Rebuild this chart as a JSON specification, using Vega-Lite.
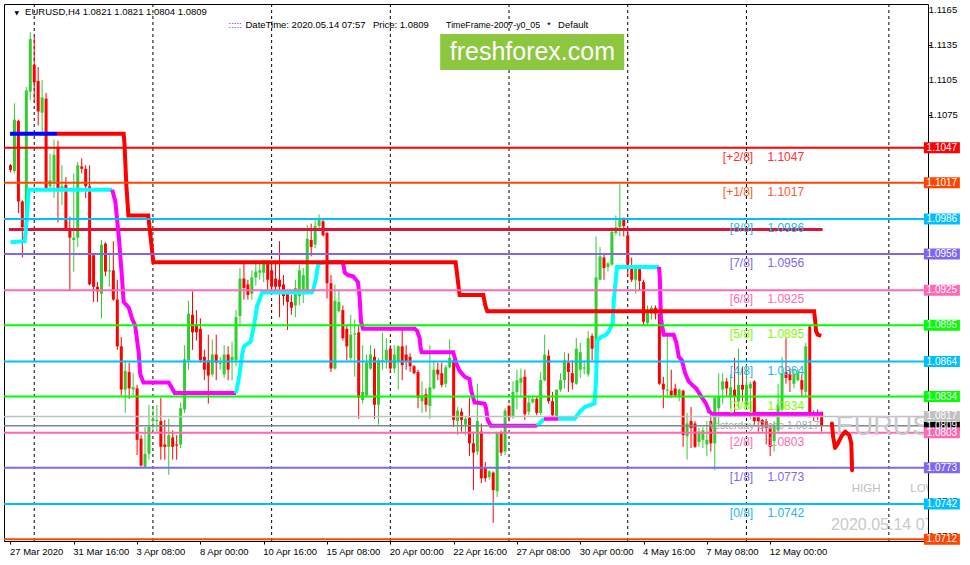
{
  "$schema": "https://vega.github.io/schema/vega-lite/v6.json",
  "width": 924,
  "height": 537,
  "autosize": {"type": "none"},
  "padding": {"left": 4, "top": 4, "right": 42, "bottom": 24},
  "background": "#FFFFFF",
  "config": {
    "view": {"stroke": "#000000", "strokeWidth": 1},
    "font": "Liberation Sans",
    "axis": {"labelFont": "Liberation Sans", "grid": false, "title": null}
  },
  "resolve": {"scale": {"color": "independent"}},
  "datasets": {
    "candles": [
      {"i":0,"o":1.1032,"h":1.1033,"l":1.1026,"c":1.1028},
      {"i":1,"o":1.1027,"h":1.1085,"l":1.1025,"c":1.1071},
      {"i":2,"o":1.1070,"h":1.1071,"l":1.0991,"c":1.1001},
      {"i":3,"o":1.1001,"h":1.1002,"l":1.0953,"c":1.0979},
      {"i":4,"o":1.0979,"h":1.1099,"l":1.0978,"c":1.1096},
      {"i":5,"o":1.1095,"h":1.1146,"l":1.1088,"c":1.1140},
      {"i":6,"o":1.1118,"h":1.1142,"l":1.1086,"c":1.1103},
      {"i":7,"o":1.1104,"h":1.1116,"l":1.1066,"c":1.1078},
      {"i":8,"o":1.1077,"h":1.1105,"l":1.1059,"c":1.1090},
      {"i":9,"o":1.1089,"h":1.1094,"l":1.1011,"c":1.1012},
      {"i":10,"o":1.1014,"h":1.1042,"l":1.1011,"c":1.1019},
      {"i":11,"o":1.1018,"h":1.1054,"l":1.1004,"c":1.1041},
      {"i":12,"o":1.1047,"h":1.1053,"l":1.0983,"c":1.1011},
      {"i":13,"o":1.1012,"h":1.1032,"l":1.0998,"c":1.1014},
      {"i":14,"o":1.1015,"h":1.1022,"l":1.0977,"c":1.0978},
      {"i":15,"o":1.0978,"h":1.0988,"l":1.0925,"c":1.0970},
      {"i":16,"o":1.0968,"h":1.1025,"l":1.0941,"c":1.0970},
      {"i":17,"o":1.0970,"h":1.1035,"l":1.0962,"c":1.1032},
      {"i":18,"o":1.1031,"h":1.1038,"l":1.1025,"c":1.1029},
      {"i":19,"o":1.1029,"h":1.1032,"l":1.1004,"c":1.1014},
      {"i":20,"o":1.1014,"h":1.1032,"l":1.0929,"c":1.0930},
      {"i":21,"o":1.0955,"h":1.0956,"l":1.0915,"c":1.0928},
      {"i":22,"o":1.0928,"h":1.0932,"l":1.0915,"c":1.0924},
      {"i":23,"o":1.0922,"h":1.0968,"l":1.0901,"c":1.0964},
      {"i":24,"o":1.0965,"h":1.0966,"l":1.0937,"c":1.0941},
      {"i":25,"o":1.0941,"h":1.0957,"l":1.0928,"c":1.0942},
      {"i":26,"o":1.0942,"h":1.0967,"l":1.0916,"c":1.0917},
      {"i":27,"o":1.0917,"h":1.0934,"l":1.0874,"c":1.0877},
      {"i":28,"o":1.0877,"h":1.0885,"l":1.0835,"c":1.0840},
      {"i":29,"o":1.0840,"h":1.0865,"l":1.0820,"c":1.0856},
      {"i":30,"o":1.0855,"h":1.0863,"l":1.0832,"c":1.0841},
      {"i":31,"o":1.0840,"h":1.0854,"l":1.0835,"c":1.0842},
      {"i":32,"o":1.0841,"h":1.0844,"l":1.0784,"c":1.0797},
      {"i":33,"o":1.0798,"h":1.0801,"l":1.0774,"c":1.0775},
      {"i":34,"o":1.0774,"h":1.0808,"l":1.0773,"c":1.0785},
      {"i":35,"o":1.0785,"h":1.0827,"l":1.0780,"c":1.0808},
      {"i":36,"o":1.0813,"h":1.0823,"l":1.0805,"c":1.0815},
      {"i":37,"o":1.0813,"h":1.0827,"l":1.0803,"c":1.0814},
      {"i":38,"o":1.0813,"h":1.0833,"l":1.0780,"c":1.0791},
      {"i":39,"o":1.0793,"h":1.0814,"l":1.0780,"c":1.0791},
      {"i":40,"o":1.0791,"h":1.0815,"l":1.0767,"c":1.0801},
      {"i":41,"o":1.0799,"h":1.0805,"l":1.0780,"c":1.0791},
      {"i":42,"o":1.0793,"h":1.0801,"l":1.0780,"c":1.0792},
      {"i":43,"o":1.0793,"h":1.0829,"l":1.0790,"c":1.0824},
      {"i":44,"o":1.0823,"h":1.0878,"l":1.0820,"c":1.0866},
      {"i":45,"o":1.0865,"h":1.0916,"l":1.0857,"c":1.0905},
      {"i":46,"o":1.0904,"h":1.0924,"l":1.0874,"c":1.0889},
      {"i":47,"o":1.0896,"h":1.0908,"l":1.0882,"c":1.0889},
      {"i":48,"o":1.0892,"h":1.0901,"l":1.0863,"c":1.0865},
      {"i":49,"o":1.0868,"h":1.0874,"l":1.0848,"c":1.0857},
      {"i":50,"o":1.0865,"h":1.0887,"l":1.0828,"c":1.0852},
      {"i":51,"o":1.0853,"h":1.0883,"l":1.0851,"c":1.0870},
      {"i":52,"o":1.0870,"h":1.0887,"l":1.0848,"c":1.0863},
      {"i":53,"o":1.0862,"h":1.0868,"l":1.0857,"c":1.0863},
      {"i":54,"o":1.0853,"h":1.0878,"l":1.0850,"c":1.0870},
      {"i":55,"o":1.0870,"h":1.0877,"l":1.0848,"c":1.0857},
      {"i":56,"o":1.0865,"h":1.0881,"l":1.0848,"c":1.0868},
      {"i":57,"o":1.0865,"h":1.0908,"l":1.0860,"c":1.0902},
      {"i":58,"o":1.0903,"h":1.0944,"l":1.0894,"c":1.0935},
      {"i":59,"o":1.0935,"h":1.0949,"l":1.0917,"c":1.0927},
      {"i":60,"o":1.0930,"h":1.0934,"l":1.0917,"c":1.0921},
      {"i":61,"o":1.0922,"h":1.0942,"l":1.0917,"c":1.0936},
      {"i":62,"o":1.0936,"h":1.0949,"l":1.0929,"c":1.0941},
      {"i":63,"o":1.0940,"h":1.0948,"l":1.0934,"c":1.0942},
      {"i":64,"o":1.0940,"h":1.0951,"l":1.0932,"c":1.0948},
      {"i":65,"o":1.0948,"h":1.0949,"l":1.0925,"c":1.0934},
      {"i":66,"o":1.0942,"h":1.0949,"l":1.0925,"c":1.0928},
      {"i":67,"o":1.0935,"h":1.0948,"l":1.0925,"c":1.0928},
      {"i":68,"o":1.0934,"h":1.0967,"l":1.0902,"c":1.0928},
      {"i":69,"o":1.0930,"h":1.0938,"l":1.0912,"c":1.0920},
      {"i":70,"o":1.0922,"h":1.0925,"l":1.0891,"c":1.0915},
      {"i":71,"o":1.0915,"h":1.0921,"l":1.0904,"c":1.0910},
      {"i":72,"o":1.0912,"h":1.0934,"l":1.0902,"c":1.0927},
      {"i":73,"o":1.0920,"h":1.0947,"l":1.0912,"c":1.0942},
      {"i":74,"o":1.0924,"h":1.0944,"l":1.0914,"c":1.0938},
      {"i":75,"o":1.0924,"h":1.0981,"l":1.0922,"c":1.0969},
      {"i":76,"o":1.0968,"h":1.0982,"l":1.0954,"c":1.0962},
      {"i":77,"o":1.0964,"h":1.0985,"l":1.0961,"c":1.0980},
      {"i":78,"o":1.0980,"h":1.0990,"l":1.0978,"c":1.0986},
      {"i":79,"o":1.0984,"h":1.0987,"l":1.0971,"c":1.0972},
      {"i":80,"o":1.0974,"h":1.0975,"l":1.0918,"c":1.0931},
      {"i":81,"o":1.0931,"h":1.0938,"l":1.0855,"c":1.0858},
      {"i":82,"o":1.0858,"h":1.0930,"l":1.0857,"c":1.0916},
      {"i":83,"o":1.0907,"h":1.0925,"l":1.0906,"c":1.0915},
      {"i":84,"o":1.0908,"h":1.0912,"l":1.0882,"c":1.0884},
      {"i":85,"o":1.0892,"h":1.0895,"l":1.0865,"c":1.0877},
      {"i":86,"o":1.0867,"h":1.0904,"l":1.0864,"c":1.0887},
      {"i":87,"o":1.0887,"h":1.0900,"l":1.0851,"c":1.0888},
      {"i":88,"o":1.0889,"h":1.0895,"l":1.0815,"c":1.0833},
      {"i":89,"o":1.0831,"h":1.0878,"l":1.0828,"c":1.0838},
      {"i":90,"o":1.0835,"h":1.0870,"l":1.0834,"c":1.0863},
      {"i":91,"o":1.0858,"h":1.0878,"l":1.0857,"c":1.0870},
      {"i":92,"o":1.0868,"h":1.0875,"l":1.0815,"c":1.0827},
      {"i":93,"o":1.0827,"h":1.0867,"l":1.0810,"c":1.0865},
      {"i":94,"o":1.0864,"h":1.0889,"l":1.0857,"c":1.0865},
      {"i":95,"o":1.0865,"h":1.0884,"l":1.0858,"c":1.0874},
      {"i":96,"o":1.0875,"h":1.0878,"l":1.0855,"c":1.0858},
      {"i":97,"o":1.0858,"h":1.0878,"l":1.0854,"c":1.0870},
      {"i":98,"o":1.0864,"h":1.0878,"l":1.0840,"c":1.0877},
      {"i":99,"o":1.0877,"h":1.0892,"l":1.0848,"c":1.0861},
      {"i":100,"o":1.0870,"h":1.0878,"l":1.0857,"c":1.0864},
      {"i":101,"o":1.0868,"h":1.0871,"l":1.0855,"c":1.0860},
      {"i":102,"o":1.0860,"h":1.0861,"l":1.0853,"c":1.0854},
      {"i":103,"o":1.0855,"h":1.0857,"l":1.0824,"c":1.0833},
      {"i":104,"o":1.0830,"h":1.0847,"l":1.0820,"c":1.0835},
      {"i":105,"o":1.0836,"h":1.0841,"l":1.0821,"c":1.0827},
      {"i":106,"o":1.0826,"h":1.0878,"l":1.0815,"c":1.0842},
      {"i":107,"o":1.0841,"h":1.0864,"l":1.0840,"c":1.0857},
      {"i":108,"o":1.0857,"h":1.0863,"l":1.0848,"c":1.0853},
      {"i":109,"o":1.0854,"h":1.0863,"l":1.0842,"c":1.0844},
      {"i":110,"o":1.0845,"h":1.0861,"l":1.0842,"c":1.0859},
      {"i":111,"o":1.0859,"h":1.0883,"l":1.0858,"c":1.0867},
      {"i":112,"o":1.0865,"h":1.0868,"l":1.0808,"c":1.0814},
      {"i":113,"o":1.0813,"h":1.0825,"l":1.0801,"c":1.0822},
      {"i":114,"o":1.0821,"h":1.0824,"l":1.0804,"c":1.0814},
      {"i":115,"o":1.0810,"h":1.0817,"l":1.0801,"c":1.0815},
      {"i":116,"o":1.0816,"h":1.0833,"l":1.0783,"c":1.0794},
      {"i":117,"o":1.0794,"h":1.0804,"l":1.0754,"c":1.0786},
      {"i":118,"o":1.0787,"h":1.0845,"l":1.0784,"c":1.0813},
      {"i":119,"o":1.0804,"h":1.0811,"l":1.0760,"c":1.0764},
      {"i":120,"o":1.0773,"h":1.0778,"l":1.0761,"c":1.0764},
      {"i":121,"o":1.0765,"h":1.0771,"l":1.0763,"c":1.0770},
      {"i":122,"o":1.0769,"h":1.0770,"l":1.0726,"c":1.0754},
      {"i":123,"o":1.0753,"h":1.0804,"l":1.0748,"c":1.0803},
      {"i":124,"o":1.0803,"h":1.0805,"l":1.0783,"c":1.0786},
      {"i":125,"o":1.0787,"h":1.0824,"l":1.0784,"c":1.0822},
      {"i":126,"o":1.0826,"h":1.0827,"l":1.0813,"c":1.0816},
      {"i":127,"o":1.0817,"h":1.0847,"l":1.0815,"c":1.0838},
      {"i":128,"o":1.0838,"h":1.0857,"l":1.0823,"c":1.0848},
      {"i":129,"o":1.0846,"h":1.0858,"l":1.0834,"c":1.0850},
      {"i":130,"o":1.0851,"h":1.0857,"l":1.0814,"c":1.0819},
      {"i":131,"o":1.0821,"h":1.0835,"l":1.0818,"c":1.0829},
      {"i":132,"o":1.0829,"h":1.0835,"l":1.0828,"c":1.0832},
      {"i":133,"o":1.0832,"h":1.0834,"l":1.0818,"c":1.0820},
      {"i":134,"o":1.0820,"h":1.0855,"l":1.0818,"c":1.0848},
      {"i":135,"o":1.0848,"h":1.0887,"l":1.0847,"c":1.0870},
      {"i":136,"o":1.0869,"h":1.0874,"l":1.0828,"c":1.0830},
      {"i":137,"o":1.0830,"h":1.0838,"l":1.0817,"c":1.0818},
      {"i":138,"o":1.0817,"h":1.0840,"l":1.0816,"c":1.0840},
      {"i":139,"o":1.0840,"h":1.0854,"l":1.0838,"c":1.0848},
      {"i":140,"o":1.0848,"h":1.0872,"l":1.0841,"c":1.0865},
      {"i":141,"o":1.0863,"h":1.0871,"l":1.0838,"c":1.0855},
      {"i":142,"o":1.0854,"h":1.0865,"l":1.0840,"c":1.0846},
      {"i":143,"o":1.0845,"h":1.0884,"l":1.0844,"c":1.0875},
      {"i":144,"o":1.0857,"h":1.0880,"l":1.0850,"c":1.0872},
      {"i":145,"o":1.0858,"h":1.0865,"l":1.0853,"c":1.0859},
      {"i":146,"o":1.0853,"h":1.0890,"l":1.0851,"c":1.0884},
      {"i":147,"o":1.0886,"h":1.0888,"l":1.0865,"c":1.0875},
      {"i":148,"o":1.0863,"h":1.0971,"l":1.0863,"c":1.0936},
      {"i":149,"o":1.0934,"h":1.0962,"l":1.0934,"c":1.0954},
      {"i":150,"o":1.0953,"h":1.0957,"l":1.0934,"c":1.0944},
      {"i":151,"o":1.0945,"h":1.0949,"l":1.0941,"c":1.0948},
      {"i":152,"o":1.0947,"h":1.0979,"l":1.0946,"c":1.0975},
      {"i":153,"o":1.0974,"h":1.0989,"l":1.0972,"c":1.0979},
      {"i":154,"o":1.0979,"h":1.1016,"l":1.0971,"c":1.0985},
      {"i":155,"o":1.0987,"h":1.0987,"l":1.0971,"c":1.0980},
      {"i":156,"o":1.0972,"h":1.0977,"l":1.0937,"c":1.0947},
      {"i":157,"o":1.0944,"h":1.0953,"l":1.0932,"c":1.0934},
      {"i":158,"o":1.0934,"h":1.0947,"l":1.0922,"c":1.0944},
      {"i":159,"o":1.0943,"h":1.0945,"l":1.0925,"c":1.0933},
      {"i":160,"o":1.0932,"h":1.0934,"l":1.0895,"c":1.0898},
      {"i":161,"o":1.0897,"h":1.0912,"l":1.0895,"c":1.0907},
      {"i":162,"o":1.0905,"h":1.0912,"l":1.0900,"c":1.0910},
      {"i":163,"o":1.0910,"h":1.0912,"l":1.0900,"c":1.0905},
      {"i":164,"o":1.0905,"h":1.0908,"l":1.0844,"c":1.0845},
      {"i":165,"o":1.0845,"h":1.0851,"l":1.0824,"c":1.0840},
      {"i":166,"o":1.0839,"h":1.0885,"l":1.0833,"c":1.0840},
      {"i":167,"o":1.0839,"h":1.0857,"l":1.0833,"c":1.0835},
      {"i":168,"o":1.0841,"h":1.0845,"l":1.0834,"c":1.0835},
      {"i":169,"o":1.0834,"h":1.0841,"l":1.0830,"c":1.0840},
      {"i":170,"o":1.0839,"h":1.0840,"l":1.0791,"c":1.0801},
      {"i":171,"o":1.0800,"h":1.0820,"l":1.0780,"c":1.0811},
      {"i":172,"o":1.0813,"h":1.0825,"l":1.0790,"c":1.0807},
      {"i":173,"o":1.0811,"h":1.0813,"l":1.0790,"c":1.0791},
      {"i":174,"o":1.0795,"h":1.0807,"l":1.0791,"c":1.0804},
      {"i":175,"o":1.0797,"h":1.0808,"l":1.0790,"c":1.0805},
      {"i":176,"o":1.0793,"h":1.0813,"l":1.0783,"c":1.0797},
      {"i":177,"o":1.0813,"h":1.0821,"l":1.0787,"c":1.0794},
      {"i":178,"o":1.0794,"h":1.0834,"l":1.0771,"c":1.0833},
      {"i":179,"o":1.0824,"h":1.0854,"l":1.0810,"c":1.0834},
      {"i":180,"o":1.0840,"h":1.0854,"l":1.0828,"c":1.0847},
      {"i":181,"o":1.0847,"h":1.0850,"l":1.0834,"c":1.0841},
      {"i":182,"o":1.0834,"h":1.0853,"l":1.0824,"c":1.0842},
      {"i":183,"o":1.0840,"h":1.0867,"l":1.0820,"c":1.0834},
      {"i":184,"o":1.0830,"h":1.0875,"l":1.0824,"c":1.0844},
      {"i":185,"o":1.0844,"h":1.0860,"l":1.0830,"c":1.0840},
      {"i":186,"o":1.0827,"h":1.0861,"l":1.0824,"c":1.0844},
      {"i":187,"o":1.0841,"h":1.0847,"l":1.0815,"c":1.0845},
      {"i":188,"o":1.0847,"h":1.0848,"l":1.0810,"c":1.0813},
      {"i":189,"o":1.0818,"h":1.0821,"l":1.0804,"c":1.0813},
      {"i":190,"o":1.0814,"h":1.0815,"l":1.0804,"c":1.0810},
      {"i":191,"o":1.0813,"h":1.0815,"l":1.0793,"c":1.0807},
      {"i":192,"o":1.0807,"h":1.0810,"l":1.0783,"c":1.0791},
      {"i":193,"o":1.0796,"h":1.0813,"l":1.0787,"c":1.0810},
      {"i":194,"o":1.0805,"h":1.0845,"l":1.0803,"c":1.0827},
      {"i":195,"o":1.0823,"h":1.0868,"l":1.0821,"c":1.0854},
      {"i":196,"o":1.0855,"h":1.0884,"l":1.0845,"c":1.0850},
      {"i":197,"o":1.0853,"h":1.0858,"l":1.0838,"c":1.0848},
      {"i":198,"o":1.0845,"h":1.0858,"l":1.0841,"c":1.0853},
      {"i":199,"o":1.0848,"h":1.0858,"l":1.0847,"c":1.0854},
      {"i":200,"o":1.0848,"h":1.0853,"l":1.0834,"c":1.0840},
      {"i":201,"o":1.0838,"h":1.0880,"l":1.0834,"c":1.0877},
      {"i":202,"o":1.0894,"h":1.0895,"l":1.0816,"c":1.0818},
      {"i":203,"o":1.0819,"h":1.0822,"l":1.0813,"c":1.0818},
      {"i":204,"o":1.0820,"h":1.0823,"l":1.0814,"c":1.0817},
      {"i":205,"o":1.0821,"h":1.0821,"l":1.0804,"c":1.0809}
    ],
    "seps": [{"i":6},{"i":36},{"i":66},{"i":96},{"i":126},{"i":156},{"i":186},{"i":222}],
    "yticks": [
      {"v":1.0715},{"v":1.0745},{"v":1.0775},{"v":1.0805},{"v":1.0835},{"v":1.0865},{"v":1.0895},{"v":1.0925},
      {"v":1.0955},{"v":1.0985},{"v":1.1015},{"v":1.1045},{"v":1.1075},{"v":1.1105},{"v":1.1135},{"v":1.1165}
    ],
    "levels": [
      {"p":1.1047,"lvl":"+2","lab":"[+2/8]","txt":"1.1047"},
      {"p":1.1017,"lvl":"+1","lab":"[+1/8]","txt":"1.1017"},
      {"p":1.0986,"lvl":"8","lab":"[8/8]","txt":"1.0986"},
      {"p":1.0956,"lvl":"7","lab":"[7/8]","txt":"1.0956"},
      {"p":1.0925,"lvl":"6","lab":"[6/8]","txt":"1.0925"},
      {"p":1.0895,"lvl":"5","lab":"[5/8]","txt":"1.0895"},
      {"p":1.0864,"lvl":"4","lab":"[4/8]","txt":"1.0864"},
      {"p":1.0834,"lvl":"3","lab":"[3/8]","txt":"1.0834"},
      {"p":1.0803,"lvl":"2","lab":"[2/8]","txt":"1.0803"},
      {"p":1.0773,"lvl":"1","lab":"[1/8]","txt":"1.0773"},
      {"p":1.0742,"lvl":"0","lab":"[0/8]","txt":"1.0742"},
      {"p":1.0712,"lvl":"-1","lab":"[-1/8]","txt":"1.0712"}
    ],
    "tags": [
      {"p":1.0809,"lvl":"bid","txt":"1.0809"},
      {"p":1.1047,"lvl":"+2","txt":"1.1047"},
      {"p":1.1017,"lvl":"+1","txt":"1.1017"},
      {"p":1.0986,"lvl":"8","txt":"1.0986"},
      {"p":1.0956,"lvl":"7","txt":"1.0956"},
      {"p":1.0925,"lvl":"6","txt":"1.0925"},
      {"p":1.0895,"lvl":"5","txt":"1.0895"},
      {"p":1.0864,"lvl":"4","txt":"1.0864"},
      {"p":1.0834,"lvl":"3","txt":"1.0834"},
      {"p":1.0817,"lvl":"yc","txt":"1.0817"},
      {"p":1.0803,"lvl":"2","txt":"1.0803"},
      {"p":1.0773,"lvl":"1","txt":"1.0773"},
      {"p":1.0742,"lvl":"0","txt":"1.0742"},
      {"p":1.0712,"lvl":"-1","txt":"1.0712"}
    ],
    "trend": [
      {"i":0,"p":1.0966,"s":1,"d":"up"},{"i":3.6,"p":1.0967,"s":1,"d":"up"},{"i":4.1,"p":1.0985,"s":1,"d":"up"},{"i":4.6,"p":1.1011,"s":1,"d":"up"},{"i":25.7,"p":1.1011,"s":1,"d":"up"},
      {"i":25.7,"p":1.1011,"s":2,"d":"down"},{"i":26.5,"p":1.1001,"s":2,"d":"down"},{"i":27.4,"p":1.0970,"s":2,"d":"down"},{"i":28.2,"p":1.0935,"s":2,"d":"down"},{"i":28.6,"p":1.0915,"s":2,"d":"down"},{"i":29.9,"p":1.0910,"s":2,"d":"down"},{"i":30.7,"p":1.0901,"s":2,"d":"down"},{"i":31.5,"p":1.0895,"s":2,"d":"down"},{"i":32.4,"p":1.0872,"s":2,"d":"down"},{"i":32.8,"p":1.0853,"s":2,"d":"down"},{"i":33.6,"p":1.0846,"s":2,"d":"down"},{"i":40,"p":1.0846,"s":2,"d":"down"},{"i":41.5,"p":1.0837,"s":2,"d":"down"},{"i":57,"p":1.0837,"s":2,"d":"down"},
      {"i":57,"p":1.0837,"s":3,"d":"up"},{"i":57.8,"p":1.0851,"s":3,"d":"up"},{"i":58.6,"p":1.0871,"s":3,"d":"up"},{"i":59,"p":1.0877,"s":3,"d":"up"},{"i":60.7,"p":1.0881,"s":3,"d":"up"},{"i":61.5,"p":1.0894,"s":3,"d":"up"},{"i":62.3,"p":1.0911,"s":3,"d":"up"},{"i":63.6,"p":1.0923,"s":3,"d":"up"},{"i":76.1,"p":1.0923,"s":3,"d":"up"},{"i":76.5,"p":1.0925,"s":3,"d":"up"},{"i":77.2,"p":1.0935,"s":3,"d":"up"},{"i":77.8,"p":1.0948,"s":3,"d":"up"},{"i":79.9,"p":1.0949,"s":3,"d":"up"},
      {"i":79.9,"p":1.0949,"s":4,"d":"down"},{"i":84,"p":1.0949,"s":4,"d":"down"},{"i":84.5,"p":1.0940,"s":4,"d":"down"},{"i":85.3,"p":1.0938,"s":4,"d":"down"},{"i":86.6,"p":1.0937,"s":4,"d":"down"},{"i":87.8,"p":1.0932,"s":4,"d":"down"},{"i":88.2,"p":1.0921,"s":4,"d":"down"},{"i":88.6,"p":1.0898,"s":4,"d":"down"},{"i":89.1,"p":1.0892,"s":4,"d":"down"},{"i":102.2,"p":1.0892,"s":4,"d":"down"},{"i":102.8,"p":1.0890,"s":4,"d":"down"},{"i":103.4,"p":1.0884,"s":4,"d":"down"},{"i":103.6,"p":1.0877,"s":4,"d":"down"},{"i":103.9,"p":1.0872,"s":4,"d":"down"},{"i":111.9,"p":1.0872,"s":4,"d":"down"},{"i":112.3,"p":1.0867,"s":4,"d":"down"},{"i":112.7,"p":1.0862,"s":4,"d":"down"},{"i":113.5,"p":1.0856,"s":4,"d":"down"},{"i":114.8,"p":1.0851,"s":4,"d":"down"},{"i":116,"p":1.0849,"s":4,"d":"down"},{"i":116.5,"p":1.0838,"s":4,"d":"down"},{"i":117.3,"p":1.0829,"s":4,"d":"down"},{"i":119.8,"p":1.0828,"s":4,"d":"down"},{"i":120.2,"p":1.0824,"s":4,"d":"down"},{"i":120.6,"p":1.0814,"s":4,"d":"down"},{"i":121.4,"p":1.0809,"s":4,"d":"down"},{"i":133.1,"p":1.0809,"s":4,"d":"down"},
      {"i":133.1,"p":1.0809,"s":5,"d":"up"},{"i":134,"p":1.0812,"s":5,"d":"up"},{"i":134.8,"p":1.0815,"s":5,"d":"up"},
      {"i":134.8,"p":1.0815,"s":6,"d":"down"},{"i":138.5,"p":1.0815,"s":6,"d":"down"},
      {"i":138.5,"p":1.0815,"s":7,"d":"up"},{"i":142.6,"p":1.0815,"s":7,"d":"up"},{"i":143.9,"p":1.0821,"s":7,"d":"up"},{"i":145.1,"p":1.0825,"s":7,"d":"up"},{"i":147.6,"p":1.0828,"s":7,"d":"up"},{"i":148,"p":1.0848,"s":7,"d":"up"},{"i":148.3,"p":1.0882,"s":7,"d":"up"},{"i":149.3,"p":1.0885,"s":7,"d":"up"},{"i":150.6,"p":1.0887,"s":7,"d":"up"},{"i":151.4,"p":1.0891,"s":7,"d":"up"},{"i":152.2,"p":1.0897,"s":7,"d":"up"},{"i":152.5,"p":1.0917,"s":7,"d":"up"},{"i":152.8,"p":1.0928,"s":7,"d":"up"},{"i":153.3,"p":1.0945,"s":7,"d":"up"},{"i":163.9,"p":1.0945,"s":7,"d":"up"},
      {"i":163.9,"p":1.0945,"s":8,"d":"down"},{"i":164.1,"p":1.0937,"s":8,"d":"down"},{"i":164.4,"p":1.0900,"s":8,"d":"down"},{"i":165.1,"p":1.0887,"s":8,"d":"down"},{"i":167.6,"p":1.0887,"s":8,"d":"down"},{"i":168.3,"p":1.0880,"s":8,"d":"down"},{"i":168.9,"p":1.0868,"s":8,"d":"down"},{"i":169.7,"p":1.0865,"s":8,"d":"down"},{"i":170.5,"p":1.0854,"s":8,"d":"down"},{"i":171.4,"p":1.0847,"s":8,"d":"down"},{"i":172.6,"p":1.0843,"s":8,"d":"down"},{"i":173.3,"p":1.0841,"s":8,"d":"down"},{"i":174.6,"p":1.0834,"s":8,"d":"down"},{"i":175.8,"p":1.0828,"s":8,"d":"down"},{"i":176.6,"p":1.0821,"s":8,"d":"down"},{"i":177.5,"p":1.0819,"s":8,"d":"down"},{"i":205.1,"p":1.0819,"s":8,"d":"down"}
    ],
    "redline": [
      {"i":11.75,"p":1.1059},{"i":28.6,"p":1.1059},{"i":28.8,"p":1.1051},{"i":29.3,"p":1.1014},{"i":29.8,"p":1.0989},{"i":34.8,"p":1.0989},{"i":35.3,"p":1.0974},{"i":36.1,"p":1.0949},{"i":112.5,"p":1.0949},{"i":113,"p":1.0935},{"i":113.5,"p":1.0921},{"i":119.5,"p":1.0921},{"i":120,"p":1.0912},{"i":120.5,"p":1.0907},{"i":203.1,"p":1.0907},{"i":203.4,"p":1.0898},{"i":203.6,"p":1.0890},{"i":204,"p":1.0887},{"i":204.9,"p":1.0886}
    ],
    "blueline": [{"i":-0.1,"p":1.1059},{"i":11.75,"p":1.1059}],
    "squiggle": [
      {"k":1,"i":207.6,"p":1.0811},{"k":2,"i":207.9,"p":1.0800},{"k":3,"i":208.4,"p":1.0790},{"k":4,"i":209.0,"p":1.0793},{"k":5,"i":210.0,"p":1.0800},{"k":6,"i":211.0,"p":1.0804},{"k":7,"i":212.0,"p":1.0801},{"k":8,"i":212.5,"p":1.0794},{"k":9,"i":212.7,"p":1.0771}
    ],
    "one": [{}]
  },
  "layer": [
    {
      "data": {"name": "seps"},
      "mark": {"type": "rule", "color": "#000000", "strokeWidth": 1, "strokeDash": [3, 3]},
      "encoding": {
        "x": {
          "field": "i", "type": "quantitative",
          "scale": {"domain": [-0.375, 230.625], "nice": false, "zero": false},
          "axis": {
            "values": [0, 16, 32, 48, 64, 80, 96, 112, 128, 144, 160, 176, 192],
            "labelExpr": "['27 Mar 2020','31 Mar 16:00','3 Apr 08:00','8 Apr 00:00','10 Apr 16:00','15 Apr 08:00','20 Apr 00:00','22 Apr 16:00','27 Apr 08:00','30 Apr 00:00','4 May 16:00','7 May 08:00','12 May 00:00'][round(datum.value/16)]",
            "title": null, "grid": false, "domain": false,
            "tickSize": 3, "tickColor": "#000000", "tickWidth": 1,
            "labelAlign": "left", "labelPadding": 2, "labelOffset": -1,
            "labelFontSize": 9.5, "labelColor": "#000000",
            "labelFlush": false, "labelOverlap": false, "labelBound": false
          }
        }
      }
    },
    {
      "data": {"name": "candles"},
      "mark": {"type": "rule", "strokeWidth": 1, "clip": true},
      "encoding": {
        "x": {"field": "i", "type": "quantitative"},
        "y": {
          "field": "l", "type": "quantitative",
          "scale": {"domain": [1.07104, 1.117], "nice": false, "zero": false},
          "axis": {
            "orient": "right",
            "values": [1.0715, 1.0745, 1.0775, 1.0805, 1.0835, 1.0865, 1.0895, 1.0925, 1.0955, 1.0985, 1.1015, 1.1045, 1.1075, 1.1105, 1.1135, 1.1165],
            "labels": false, "title": null, "grid": false, "domain": false,
            "tickSize": 3, "tickColor": "#000000", "zindex": 0
          }
        },
        "y2": {"field": "h"},
        "color": {"condition": {"test": "datum.c >= datum.o", "value": "#32CD32"}, "value": "#FF0000"}
      }
    },
    {
      "data": {"name": "candles"},
      "mark": {"type": "bar", "size": 3, "clip": true},
      "encoding": {
        "x": {"field": "i", "type": "quantitative"},
        "y": {"field": "o", "type": "quantitative"},
        "y2": {"field": "c"},
        "color": {"condition": {"test": "datum.c >= datum.o", "value": "#32CD32"}, "value": "#FF0000"}
      }
    },
    {
      "data": {"name": "one"},
      "mark": {"type": "rule", "color": "#DC143C", "strokeWidth": 3, "clip": true},
      "encoding": {
        "x": {"datum": -0.375, "type": "quantitative"},
        "x2": {"datum": 205.25},
        "y": {"datum": 1.0977, "type": "quantitative"}
      }
    },
    {
      "data": {"name": "trend"},
      "mark": {"type": "line", "strokeWidth": 4, "clip": true, "strokeJoin": "miter"},
      "encoding": {
        "x": {"field": "i", "type": "quantitative"},
        "y": {"field": "p", "type": "quantitative"},
        "detail": {"field": "s", "type": "nominal"},
        "color": {"field": "d", "type": "nominal", "scale": {"domain": ["up", "down"], "range": ["#00FFFF", "#FF00FF"]}, "legend": null}
      }
    },
    {
      "data": {"name": "redline"},
      "mark": {"type": "line", "strokeWidth": 4, "color": "#FF0000", "clip": true, "strokeJoin": "miter"},
      "encoding": {
        "x": {"field": "i", "type": "quantitative"},
        "y": {"field": "p", "type": "quantitative"}
      }
    },
    {
      "data": {"name": "blueline"},
      "mark": {"type": "line", "strokeWidth": 4, "color": "#0000FF", "clip": true},
      "encoding": {
        "x": {"field": "i", "type": "quantitative"},
        "y": {"field": "p", "type": "quantitative"}
      }
    },
    {
      "data": {"name": "levels"},
      "mark": {"type": "rule", "strokeWidth": 2},
      "encoding": {
        "y": {"field": "p", "type": "quantitative"},
        "color": {"field": "lvl", "type": "nominal", "legend": null,
          "scale": {"domain": ["+2", "+1", "8", "7", "6", "5", "4", "3", "2", "1", "0", "-1"],
                    "range": ["#FF0000", "#FF4500", "#00BFFF", "#7B68EE", "#FF69B4", "#00FF00", "#00BFFF", "#00FF00", "#FF69B4", "#7B68EE", "#00BFFF", "#FF4500"]}}
      }
    },
    {
      "data": {"name": "one"},
      "mark": {"type": "rule", "color": "#C0C0C0", "strokeWidth": 1.5},
      "encoding": {"y": {"datum": 1.0817, "type": "quantitative"}}
    },
    {
      "data": {"name": "one"},
      "mark": {"type": "rule", "color": "#778899", "strokeWidth": 1.5},
      "encoding": {"y": {"datum": 1.0809, "type": "quantitative"}}
    },
    {
      "data": {"name": "levels"},
      "mark": {"type": "text", "align": "right", "baseline": "middle", "dy": 9, "fontSize": 12, "clip": true},
      "encoding": {
        "x": {"datum": 187.7, "type": "quantitative"},
        "y": {"field": "p", "type": "quantitative"},
        "text": {"field": "lab"},
        "color": {"field": "lvl", "type": "nominal", "legend": null,
          "scale": {"domain": ["+2", "+1", "8", "7", "6", "5", "4", "3", "2", "1", "0", "-1"],
                    "range": ["#FF3030", "#FF5A2A", "#1EB4F0", "#7B68EE", "#FF69B4", "#7CFC00", "#1EB4F0", "#7CFC00", "#FF69B4", "#7B68EE", "#1EB4F0", "#FF4500"]}}
      }
    },
    {
      "data": {"name": "levels"},
      "mark": {"type": "text", "align": "left", "baseline": "middle", "dy": 9, "fontSize": 12, "clip": true},
      "encoding": {
        "x": {"datum": 191.3, "type": "quantitative"},
        "y": {"field": "p", "type": "quantitative"},
        "text": {"field": "txt"},
        "color": {"field": "lvl", "type": "nominal", "legend": null,
          "scale": {"domain": ["+2", "+1", "8", "7", "6", "5", "4", "3", "2", "1", "0", "-1"],
                    "range": ["#FF3030", "#FF5A2A", "#1EB4F0", "#7B68EE", "#FF69B4", "#7CFC00", "#1EB4F0", "#7CFC00", "#FF69B4", "#7B68EE", "#1EB4F0", "#FF4500"]}}
      }
    },
    {
      "data": {"name": "one"},
      "mark": {"type": "text", "align": "right", "baseline": "middle", "fontSize": 10.5, "color": "#A8A8A8", "clip": true},
      "encoding": {
        "x": {"datum": 204.4, "type": "quantitative"},
        "y": {"datum": 1.0809, "type": "quantitative"},
        "text": {"value": "Yesterday Close 1.0817"}
      }
    },
    {
      "data": {"name": "one"},
      "mark": {"type": "point", "shape": "triangle-down", "filled": true, "size": 22, "color": "#000000", "opacity": 1},
      "encoding": {
        "x": {"datum": 1.6, "type": "quantitative"},
        "y": {"datum": 1.1162, "type": "quantitative"}
      }
    },
    {
      "data": {"name": "one"},
      "mark": {"type": "text", "align": "left", "baseline": "middle", "fontSize": 9.5, "color": "#000000"},
      "encoding": {
        "x": {"datum": 3.7, "type": "quantitative"},
        "y": {"datum": 1.11631, "type": "quantitative"},
        "text": {"value": "EURUSD,H4  1.0821 1.0821 1.0804 1.0809"}
      }
    },
    {
      "data": {"name": "one"},
      "mark": {"type": "text", "align": "left", "baseline": "middle", "fontSize": 9.5, "color": "#9400D3"},
      "encoding": {
        "x": {"datum": 55.1, "type": "quantitative"},
        "y": {"datum": 1.1152, "type": "quantitative"},
        "text": {"value": ":::::"}
      }
    },
    {
      "data": {"name": "one"},
      "mark": {"type": "text", "align": "left", "baseline": "middle", "fontSize": 9.5, "color": "#000000"},
      "encoding": {
        "x": {"datum": 59.4, "type": "quantitative"},
        "y": {"datum": 1.1152, "type": "quantitative"},
        "text": {"value": "DateTime: 2020.05.14 07:57"}
      }
    },
    {
      "data": {"name": "one"},
      "mark": {"type": "text", "align": "left", "baseline": "middle", "fontSize": 9.5, "color": "#000000"},
      "encoding": {
        "x": {"datum": 91.6, "type": "quantitative"},
        "y": {"datum": 1.1152, "type": "quantitative"},
        "text": {"value": "Price: 1.0809"}
      }
    },
    {
      "data": {"name": "one"},
      "mark": {"type": "text", "align": "left", "baseline": "middle", "fontSize": 8.8, "color": "#000000"},
      "encoding": {
        "x": {"datum": 110.1, "type": "quantitative"},
        "y": {"datum": 1.1152, "type": "quantitative"},
        "text": {"value": "TimeFrame-2007-y0_05"}
      }
    },
    {
      "data": {"name": "one"},
      "mark": {"type": "text", "align": "left", "baseline": "middle", "fontSize": 9.5, "color": "#000000"},
      "encoding": {
        "x": {"datum": 135.6, "type": "quantitative"},
        "y": {"datum": 1.1152, "type": "quantitative"},
        "text": {"value": "*"}
      }
    },
    {
      "data": {"name": "one"},
      "mark": {"type": "text", "align": "left", "baseline": "middle", "fontSize": 9.5, "color": "#000000"},
      "encoding": {
        "x": {"datum": 138.4, "type": "quantitative"},
        "y": {"datum": 1.1152, "type": "quantitative"},
        "text": {"value": "Default"}
      }
    },
    {
      "data": {"name": "one"},
      "mark": {"type": "rect", "color": "#8DC63F", "opacity": 1},
      "encoding": {
        "x": {"datum": 108.6, "type": "quantitative"},
        "x2": {"datum": 155.1},
        "y": {"datum": 1.11443, "type": "quantitative"},
        "y2": {"datum": 1.11135}
      }
    },
    {
      "data": {"name": "one"},
      "mark": {"type": "text", "align": "center", "baseline": "middle", "fontSize": 25, "color": "#FFFFFF"},
      "encoding": {
        "x": {"datum": 131.9, "type": "quantitative"},
        "y": {"datum": 1.11289, "type": "quantitative"},
        "text": {"value": "freshforex.com"}
      }
    },
    {
      "data": {"name": "one"},
      "mark": {"type": "text", "align": "left", "baseline": "alphabetic", "fontSize": 27, "color": "#C8C8C8", "clip": true},
      "encoding": {
        "x": {"datum": 208.6, "type": "quantitative"},
        "y": {"datum": 1.0801, "type": "quantitative"},
        "text": {"value": "EURUSD"}
      }
    },
    {
      "data": {"name": "one"},
      "mark": {"type": "text", "align": "left", "baseline": "alphabetic", "fontSize": 11.5, "color": "#C0C0C0", "clip": true},
      "encoding": {
        "x": {"datum": 212.6, "type": "quantitative"},
        "y": {"datum": 1.07523, "type": "quantitative"},
        "text": {"value": "HIGH"}
      }
    },
    {
      "data": {"name": "one"},
      "mark": {"type": "text", "align": "left", "baseline": "alphabetic", "fontSize": 11.5, "color": "#C0C0C0", "clip": true},
      "encoding": {
        "x": {"datum": 227.4, "type": "quantitative"},
        "y": {"datum": 1.07523, "type": "quantitative"},
        "text": {"value": "LOW"}
      }
    },
    {
      "data": {"name": "one"},
      "mark": {"type": "text", "align": "left", "baseline": "alphabetic", "fontSize": 16, "color": "#C8C8C8", "clip": true},
      "encoding": {
        "x": {"datum": 207.4, "type": "quantitative"},
        "y": {"datum": 1.07198, "type": "quantitative"},
        "text": {"value": "2020.05.14 07:57"}
      }
    },
    {
      "data": {"name": "squiggle"},
      "mark": {"type": "line", "strokeWidth": 4, "color": "#FF0000", "strokeCap": "round", "strokeJoin": "round", "clip": true},
      "encoding": {
        "x": {"field": "i", "type": "quantitative"},
        "y": {"field": "p", "type": "quantitative"},
        "order": {"field": "k", "type": "quantitative"}
      }
    },
    {
      "data": {"name": "yticks"},
      "mark": {"type": "text", "align": "left", "baseline": "middle", "fontSize": 9.5, "color": "#000000", "clip": false},
      "encoding": {
        "x": {"datum": 232.1, "type": "quantitative"},
        "y": {"field": "v", "type": "quantitative"},
        "text": {"field": "v", "type": "quantitative", "format": ".4f"}
      }
    },
    {
      "data": {"name": "tags"},
      "mark": {"type": "tick", "orient": "horizontal", "thickness": 11, "size": 36, "opacity": 1, "clip": false},
      "encoding": {
        "x": {"datum": 235.4, "type": "quantitative"},
        "y": {"field": "p", "type": "quantitative"},
        "color": {"field": "lvl", "type": "nominal", "legend": null,
          "scale": {"domain": ["+2", "+1", "8", "7", "6", "5", "4", "3", "2", "1", "0", "-1", "yc", "bid"],
                    "range": ["#FF0000", "#FF4500", "#00BFFF", "#7B68EE", "#FF69B4", "#00FF00", "#00BFFF", "#00FF00", "#FF69B4", "#7B68EE", "#00BFFF", "#FF4500", "#C0C0C0", "#000000"]}}
      }
    },
    {
      "data": {"name": "tags"},
      "mark": {"type": "text", "align": "center", "baseline": "middle", "fontSize": 10, "color": "#FFFFFF", "clip": false},
      "encoding": {
        "x": {"datum": 235.4, "type": "quantitative"},
        "y": {"field": "p", "type": "quantitative"},
        "text": {"field": "txt"}
      }
    }
  ]
}
